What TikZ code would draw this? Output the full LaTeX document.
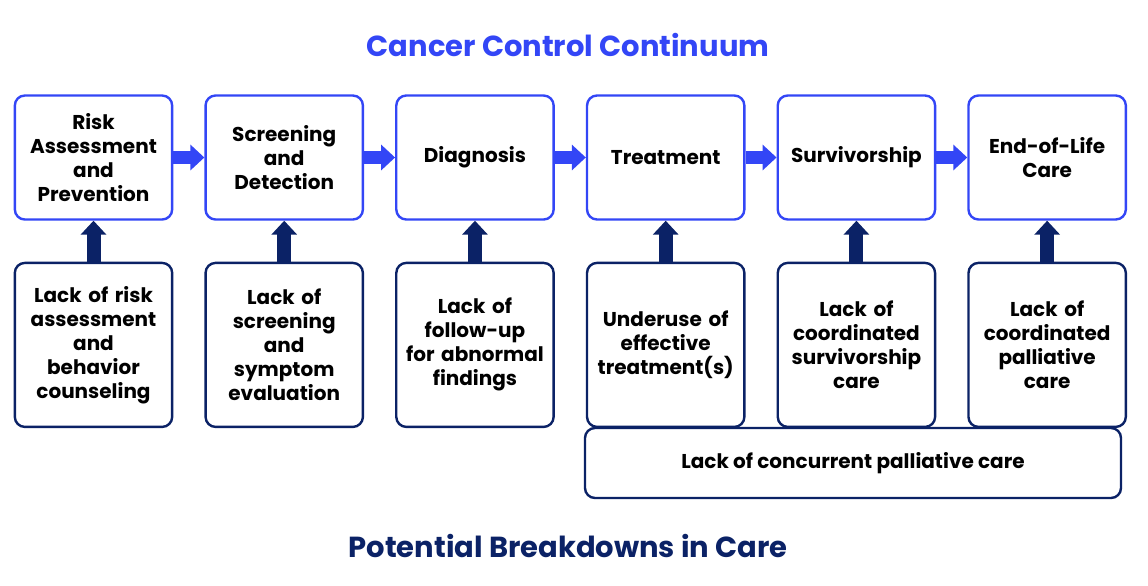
\documentclass[tikz,border=0pt]{standalone}
\usepackage{fontspec}
\setmainfont{Poppins}
\usetikzlibrary{positioning, arrows.meta}
\definecolor{stageblue}{HTML}{3346F6}
\definecolor{gapnavy}{HTML}{0B2266}

\begin{document}
\begin{tikzpicture}[x=0.5pt, y=-0.5pt, node distance=15.5pt, font=\fontsize{10}{12}\selectfont\bfseries]
            \tikzstyle{stage} = [draw=stageblue, line width=1.2pt, rounded corners=5pt, minimum width=78pt, minimum height=62pt, align=center, text width=72pt]
            \tikzstyle{gap} = [draw=gapnavy, line width=1.2pt, rounded corners=5pt, minimum width=78pt, minimum height=82pt, align=center, text width=72pt]
            \tikzstyle{flow} = [stageblue, line width=6.5pt, -{Triangle[width=12.5pt, length=7pt]}]
            \tikzstyle{push} = [gapnavy, line width=7pt, -{Triangle[width=12.5pt, length=7pt]}]

            \useasboundingbox (0,0) rectangle (1148,585);

            % Titles
            \node[text=stageblue, font=\fontsize{14.5}{17}\selectfont\bfseries] (top) at (568,45) {Cancer Control Continuum};
            \node[text=gapnavy, font=\fontsize{14.5}{17}\selectfont\bfseries] (bottom) at (568,546) {Potential Breakdowns in Care};

            % Continuum stages
            \node[stage] (risk) at (93.5,157.5) {Risk\\Assessment\\and\\Prevention};
            \node[stage] (screen) [right=of risk] {Screening\\and\\Detection};
            \node[stage] (diag) [right=of screen] {Diagnosis};
            \node[stage] (treat) [right=of diag] {Treatment};
            \node[stage] (surv) [right=of treat] {Survivorship};
            \node[stage] (eol) [right=of surv] {End-of-Life\\Care};

            % Breakdowns
            \node[gap] (riskgap) [below=20.5pt of risk] {Lack of risk\\assessment\\and\\behavior\\counseling};
            \node[gap] (screengap) [below=20.5pt of screen] {Lack of\\screening\\and\\symptom\\evaluation};
            \node[gap] (diaggap) [below=20.5pt of diag] {Lack of\\follow-up\\for abnormal\\findings};
            \node[gap] (treatgap) [below=20.5pt of treat] {Underuse of\\effective\\treatment(s)};
            \node[gap] (survgap) [below=20.5pt of surv] {Lack of\\coordinated\\survivorship\\care};
            \node[gap] (eolgap) [below=20.5pt of eol] {Lack of\\coordinated\\palliative\\care};
            \node[draw=gapnavy, line width=1.2pt, rounded corners=5pt, minimum width=268pt, minimum height=35pt] (concur) at (853,463) {Lack of concurrent palliative care};

            % Arrows
            \draw[flow] (risk) -- (screen);
            \draw[flow] (screen) -- (diag);
            \draw[flow] (diag) -- (treat);
            \draw[flow] (treat) -- (surv);
            \draw[flow] (surv) -- (eol);

            \draw[push] (riskgap) -- (risk);
            \draw[push] (screengap) -- (screen);
            \draw[push] (diaggap) -- (diag);
            \draw[push] (treatgap) -- (treat);
            \draw[push] (survgap) -- (surv);
            \draw[push] (eolgap) -- (eol);
        \end{tikzpicture}
\end{document}
